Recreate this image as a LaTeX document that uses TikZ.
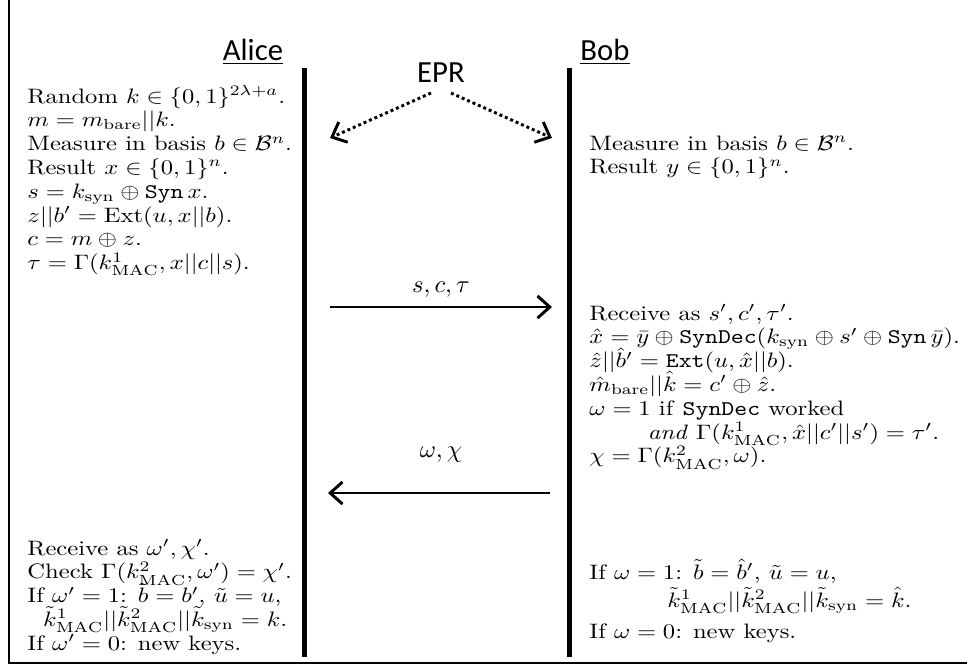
\documentclass[tikz,border=0pt]{standalone}
\usepackage{graphicx}
\usepackage{fontspec}
\newfontfamily\calibri{Carlito}
\usetikzlibrary{arrows.meta}

\newcommand{\mac}{\mathrm{MAC}}
\newcommand{\syn}{\mathrm{syn}}
\newcommand{\bare}{\mathrm{bare}}

\tikzset{
  party/.style={anchor=base, inner sep=0pt, font=\calibri\fontsize{12.5}{14}\selectfont},
  steps/.style={anchor=base west, inner sep=0pt, font=\fontsize{10}{11.4}\selectfont},
  wire/.style={line width=2pt},
  msg/.style={line width=1.2pt, -{Straight Barb[length=5pt,width=9pt]}},
  epr/.style={line width=1.2pt, dash pattern=on 1.2pt off 1.2pt, -{Straight Barb[length=5pt,width=9pt]}}
}

\begin{document}
\begin{tikzpicture}[x=0.0143cm,y=-0.0143cm]
  \useasboundingbox (0,0) rectangle (967,666);
  \draw[line width=0.8pt] (9,0) -- (9,663) -- (967,663);

  % who is who
  \node[party] (alice) at (253,60) {\underline{Alice}};
  \node[party] (bob) at (605,60) {\underline{Bob}};
  \node[party] (epr) at (441,82) {EPR};

  % time lines
  \coordinate (aliceTop) at (304.5,68); \coordinate (aliceEnd) at (304.5,657);
  \coordinate (bobTop) at (569.5,68); \coordinate (bobEnd) at (569.5,657);
  \draw[wire] (aliceTop) -- (aliceEnd);
  \draw[wire] (bobTop) -- (bobEnd);

  % EPR pairs
  \coordinate (eprA) at (431,93); \coordinate (eprB) at (451,93);
  \coordinate (aliceEpr) at (330,138); \coordinate (bobEpr) at (552,138);
  \draw[epr] (eprA) -- (aliceEpr);
  \draw[epr] (eprB) -- (bobEpr);

  % messages
  \coordinate (aliceOut) at (330,307); \coordinate (bobIn) at (552,307);
  \draw[msg] (aliceOut) -- (bobIn) node[midway,above] (sct) {$s,c,\tau$};
  \coordinate (bobOut) at (550,493); \coordinate (aliceIn) at (328,493);
  \draw[msg] (bobOut) -- (aliceIn);
  \node (wx) at (441,455) {$\omega,\chi$};

  % Alice
  \node[steps] (alice1) at (27,103) {\scalebox{1}[0.85]{\begin{tabular}[t]{@{}l@{}}
    \smash{Random $k\in\{0,1\}^{2\lambda+a}$.}\\
    \smash{$m=m_{\bare}||k$.}\\
    \smash{Measure in basis $b\in\mathcal{B}^n$.}\\
    \smash{Result $x\in\{0,1\}^n$.}\\
    \smash{$s=k_{\syn}\oplus\texttt{Syn}\,x$.}\\
    \smash{$z||b'=\mathrm{Ext}(u,x||b)$.}\\
    \smash{$c=m\oplus z$.}\\
    \smash{$\tau=\Gamma(k^1_{\mac},x||c||s)$.}
  \end{tabular}}};
  \node[steps] (alice2) at (27,555) {\scalebox{1}[0.85]{\begin{tabular}[t]{@{}l@{}}
    \smash{Receive as $\omega',\chi'$.}\\
    \smash{Check $\Gamma(k^2_{\mac},\omega')=\chi'$.}\\
    \smash{If $\omega'=1$: $\tilde b=b'$, $\tilde u=u$,}\\
    \smash{\hspace*{6.4pt}$\tilde k^1_{\mac}||\tilde k^2_{\mac}||\tilde k_{\syn}=k$.}\\
    \smash{If $\omega'=0$: new keys.}
  \end{tabular}}};

  % Bob
  \node[steps] (bob1) at (589,150) {\scalebox{1}[0.85]{\begin{tabular}[t]{@{}l@{}}
    \smash{Measure in basis $b\in\mathcal{B}^n$.}\\
    \smash{Result $y\in\{0,1\}^n$.}
  \end{tabular}}};
  \node[steps] (bob2) at (589,320) {\scalebox{1}[0.85]{\begin{tabular}[t]{@{}l@{}}
    \smash{Receive as $s',c',\tau'$.}\\
    \smash{$\hat x=\bar y\oplus\texttt{SynDec}(k_{\syn}\oplus s'\oplus\texttt{Syn}\,\bar y)$.}\\
    \smash{$\hat z||\hat b'=\texttt{Ext}(u,\hat x||b)$.}\\
    \smash{$\hat m_{\bare}||\hat k=c'\oplus\hat z$.}\\
    \smash{$\omega=1$ if \texttt{SynDec} worked}\\
    \smash{\hspace*{23.7pt}\emph{and} $\Gamma(k^1_{\mac},\hat x||c'||s')=\tau'$.}\\
    \smash{$\chi=\Gamma(k^2_{\mac},\omega)$.}
  \end{tabular}}};
  \node[steps] (bob3) at (589,579) {\scalebox{1}[0.85]{\begin{tabular}[t]{@{}l@{}}
    \smash{If $\omega=1$: $\tilde b=\hat b'$, $\tilde u=u$,}\\[2pt]
    \smash{\hspace*{31.7pt}$\tilde k^1_{\mac}||\tilde k^2_{\mac}||\tilde k_{\syn}=\hat k$.}\\[3.9pt]
    \smash{If $\omega=0$: new keys.}
  \end{tabular}}};
\end{tikzpicture}
\end{document}
